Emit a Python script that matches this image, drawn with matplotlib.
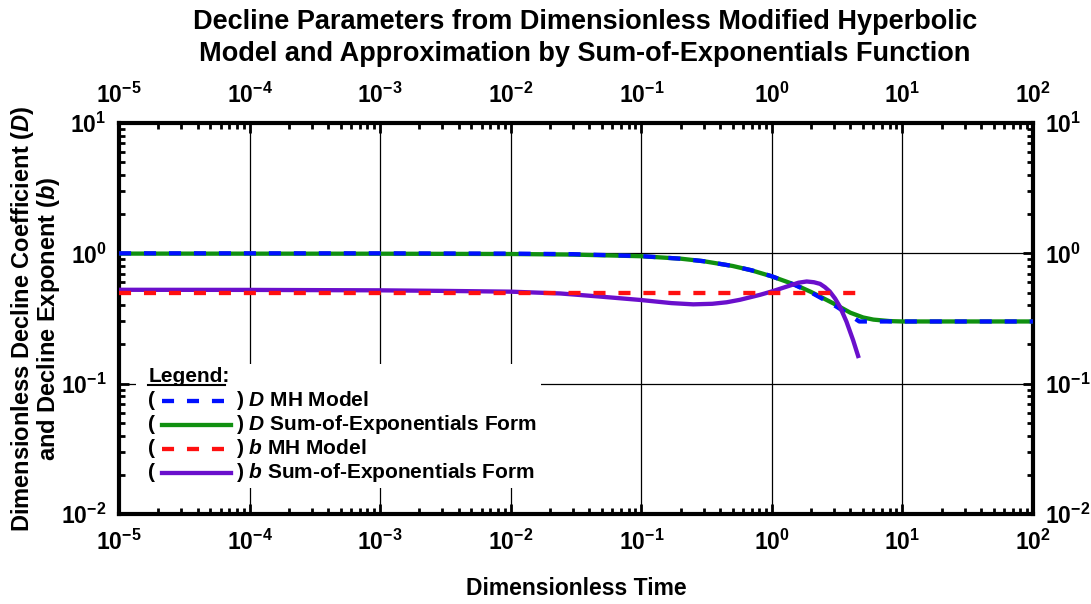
import math
import matplotlib
matplotlib.use("Agg")
import matplotlib.pyplot as plt
from matplotlib.ticker import LogLocator, FuncFormatter, NullFormatter
from matplotlib.lines import Line2D
from matplotlib.patches import Rectangle

plt.rcParams['font.family'] = ['Liberation Sans', 'DejaVu Sans']
plt.rcParams['font.weight'] = 'bold'
plt.rcParams['mathtext.fontset'] = 'custom'
plt.rcParams['mathtext.rm'] = 'Liberation Sans:bold'
plt.rcParams['mathtext.bf'] = 'Liberation Sans:bold'
plt.rcParams['mathtext.it'] = 'Liberation Sans:italic:bold'

# modified hyperbolic model, D and b
t_mh = [1e-5, 1e-3, 1e-2, 0.03, 0.1, 0.2, 0.3, 0.5, 0.7, 1.0, 1.5, 2.0, 3.0, 4.0, 4.67, 10, 100]
d_mh = [1.0, 1.0, 0.995, 0.985, 0.952, 0.909, 0.870, 0.80, 0.741, 0.667, 0.571, 0.50, 0.40, 0.333, 0.30, 0.30, 0.30]
t_bmh = [1e-5, 4.67]
b_mh = [0.5, 0.5]

# sum-of-exponentials approximation
t_se = [1e-5, 1e-3, 1e-2, 0.03, 0.1, 0.2, 0.3, 0.5, 0.7, 1.0, 1.5, 2.0, 3.0, 4.0, 5.0, 6.0, 8.0, 10, 20, 100]
d_se = [0.995, 0.993, 0.988, 0.978, 0.95, 0.91, 0.87, 0.80, 0.74, 0.665, 0.575, 0.505, 0.41, 0.35,
        0.322, 0.31, 0.302, 0.30, 0.30, 0.30]
t_bse = [1e-5, 1e-4, 1e-3, 3e-3, 1e-2, 0.024, 0.048, 0.1, 0.17, 0.25, 0.35, 0.45, 0.57, 0.81,
         1.0, 1.37, 1.6, 1.85, 2.1, 2.34, 2.55, 2.78, 3.05, 3.32, 3.73, 4.19, 4.58]
b_se = [0.525, 0.524, 0.52, 0.515, 0.508, 0.492, 0.466, 0.438, 0.415, 0.406, 0.41, 0.421, 0.44, 0.48,
        0.51, 0.565, 0.595, 0.608, 0.60, 0.583, 0.55, 0.509, 0.45, 0.39, 0.299, 0.216, 0.163]

labels = ["MH Model", "Sum-of-Exponentials Form", "MH Model", "Sum-of-Exponentials Form"]
symbols = ["D", "D", "b", "b"]

fig = plt.figure(figsize=(10.91, 6.04), dpi=100)
ax = fig.add_axes([0.1091, 0.149, 0.8377, 0.6474])

lw = 3.1
ax.plot(t_se, d_se, color='#109010', lw=lw, zorder=3)
ax.plot(t_mh, d_mh, color='#0010ff', lw=lw, dashes=(2.8, 3.0), zorder=4)
ax.plot(t_bse, b_se, color='#6a0fcc', lw=lw, zorder=5)
ax.plot(t_bmh, b_mh, color='#ff1010', lw=lw, dashes=(2.8, 3.0), zorder=6)

ax.set_xscale('log')
ax.set_yscale('log')
ax.set_xlim(1e-5, 1e2)
ax.set_ylim(1e-2, 1e1)

def pow_fmt(v, pos):
    e = int(round(math.log10(v)))
    return r'$\mathbf{10^{%d}}$' % e

for axis in (ax.xaxis, ax.yaxis):
    axis.set_major_locator(LogLocator(base=10, numticks=20))
    axis.set_minor_locator(LogLocator(base=10, subs=range(2, 10), numticks=20))
    axis.set_major_formatter(FuncFormatter(pow_fmt))
    axis.set_minor_formatter(NullFormatter())

ax.tick_params(which='both', direction='in', top=True, right=True,
               labeltop=True, labelright=True, labelsize=16.5, width=2, color='black')
ax.tick_params(axis='x', which='major', length=7, pad=11)
ax.tick_params(axis='y', which='major', length=7, pad=9)
ax.tick_params(which='minor', length=4.5)
for s in ax.spines.values():
    s.set_linewidth(3)
ax.grid(True, which='major', color='black', lw=0.9, zorder=1)

ax.set_xlabel("Dimensionless Time", fontsize=16.5, fontweight='bold', labelpad=16)
ax.set_ylabel("Dimensionless Decline Coefficient ($D$)\nand Decline Exponent ($b$)",
              fontsize=17, fontweight='bold', linespacing=0.95)
ax.yaxis.set_label_coords(-0.062, 0.5)
fig.suptitle("Decline Parameters from Dimensionless Modified Hyperbolic\n"
             "Model and Approximation by Sum-of-Exponentials Function",
             x=0.536, y=0.985, fontsize=19.5, fontweight='bold', linespacing=1.3)

# legend drawn by hand: white panel, heading, "( sample ) label" rows
tr = ax.transAxes
ax.add_patch(Rectangle((0.019, 0.066), 0.443, 0.318, transform=tr, facecolor='white',
                       edgecolor='none', zorder=2))
ax.text(0.032, 0.352, "Legend:", transform=tr, fontsize=15, fontweight='bold', va='center', zorder=7)
ax.add_line(Line2D([0.032, 0.116], [0.33, 0.33], transform=tr, color='black', lw=1.5, zorder=7))
styles = [dict(color='#0010ff', dashes=(2.8, 3.0)), dict(color='#109010'),
          dict(color='#ff1010', dashes=(2.8, 3.0)), dict(color='#6a0fcc')]
for i, (sym, lab, st) in enumerate(zip(symbols, labels, styles)):
    y = 0.29 - i * 0.0615
    ax.text(0.032, y, "(", transform=tr, fontsize=15, va='center', zorder=7)
    ax.add_line(Line2D([0.047, 0.122], [y, y], transform=tr, lw=lw, zorder=7, **st))
    ax.text(0.128, y, ") $%s$ %s" % (sym, lab), transform=tr, fontsize=15, va='center', zorder=7)

fig.savefig("out.png", dpi=100)
